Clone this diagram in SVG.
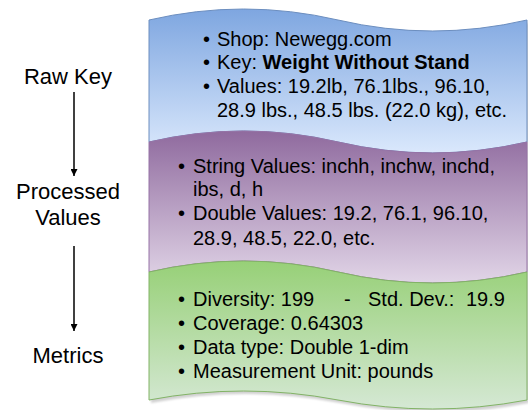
<svg xmlns="http://www.w3.org/2000/svg" width="528" height="410" viewBox="0 0 528 410">
  <style>
    text { font-family: "Liberation Sans", Arial, Helvetica, sans-serif; fill: #000; }
    .body { font-size: 20px; }
    .side { font-size: 22px; text-anchor: middle; }
    .bold { font-weight: bold; }
    .link { stroke: #000; stroke-width: 1.5; fill: none; }
    .shadow { fill: #000; opacity: 0.18; filter: url(#soft); }
  </style>
  <defs>
    <linearGradient id="gBlue" x1="0" y1="0" x2="0" y2="1">
      <stop offset="0" stop-color="#7ea6e0"/>
      <stop offset="1" stop-color="#dae8fc"/>
    </linearGradient>
    <linearGradient id="gPurple" x1="0" y1="0" x2="0" y2="1">
      <stop offset="0" stop-color="#8f6a9e"/>
      <stop offset="1" stop-color="#e1d5e7"/>
    </linearGradient>
    <linearGradient id="gGreen" x1="0" y1="0" x2="0" y2="1">
      <stop offset="0" stop-color="#97d077"/>
      <stop offset="1" stop-color="#d5e8d4"/>
    </linearGradient>
    <filter id="soft" x="-5%" y="-5%" width="110%" height="110%">
      <feGaussianBlur stdDeviation="1.2"/>
    </filter>
    <marker id="arrow" viewBox="0 0 10 10" refX="10" refY="5" markerWidth="7" markerHeight="7" markerUnits="userSpaceOnUse" orient="auto">
      <path d="M0,0 L10,5 L0,10 Z" fill="#000"/>
    </marker>
  </defs>

  <!-- drop shadows of the wavy bands -->
  <g id="shadows">
    <path class="shadow" transform="translate(2,3)" d="M149,20 Q243.5,-2 338,20 Q432.5,42 527,20 L527,400 Q432.5,418 338,400 Q243.5,382 149,400 Z"/>
  </g>

  <!-- blue band: raw key -->
  <g id="raw-key-band">
    <path d="M149,20 Q243.5,-2 338,20 Q432.5,42 527,20 L527,142 Q432.5,164 338,142 Q243.5,120 149,142 Z" fill="url(#gBlue)" stroke="#6c8ebf" stroke-width="1"/>
    <text class="body" x="203" y="46">•</text>
    <text class="body" x="217" y="46">Shop: Newegg.com</text>
    <text class="body" x="203" y="69">•</text>
    <text class="body" x="217" y="69">Key: <tspan class="bold">Weight Without Stand</tspan></text>
    <text class="body" x="203" y="93">•</text>
    <text class="body" x="217" y="93">Values: 19.2lb, 76.1lbs., 96.10,</text>
    <text class="body" x="217" y="117">28.9 lbs., 48.5 lbs. (22.0 kg), etc.</text>
  </g>

  <!-- purple band: processed values -->
  <g id="processed-band">
    <path d="M149,142 Q243.5,120 338,142 Q432.5,164 527,142 L527,272 Q432.5,294 338,272 Q243.5,250 149,272 Z" fill="url(#gPurple)" stroke="#9673a6" stroke-width="1"/>
    <text class="body" x="178" y="173">•</text>
    <text class="body" x="193" y="173">String Values: inchh, inchw, inchd,</text>
    <text class="body" x="193" y="196">ibs, d, h</text>
    <text class="body" x="178" y="220">•</text>
    <text class="body" x="193" y="220">Double Values: 19.2, 76.1, 96.10,</text>
    <text class="body" x="193" y="245">28.9, 48.5, 22.0, etc.</text>
  </g>

  <!-- green band: metrics -->
  <g id="metrics-band">
    <path d="M149,272 Q243.5,250 338,272 Q432.5,294 527,272 L527,400 Q432.5,418 338,400 Q243.5,382 149,400 Z" fill="url(#gGreen)" stroke="#82b366" stroke-width="1"/>
    <text class="body" x="178" y="306">•</text>
    <text class="body" x="193" y="306">Diversity: 199</text>
    <text class="body" x="344" y="306">-</text>
    <text class="body" x="368" y="306">Std. Dev.:</text>
    <text class="body" x="466" y="306">19.9</text>
    <text class="body" x="178" y="330">•</text>
    <text class="body" x="193" y="330">Coverage: 0.64303</text>
    <text class="body" x="178" y="354">•</text>
    <text class="body" x="193" y="354">Data type: Double 1-dim</text>
    <text class="body" x="178" y="378">•</text>
    <text class="body" x="193" y="378">Measurement Unit: pounds</text>
  </g>

  <!-- stage labels -->
  <g id="stage-raw-key">
    <text class="side" x="68" y="84">Raw Key</text>
  </g>
  <g id="stage-processed">
    <text class="side" x="68" y="199">Processed</text>
    <text class="side" x="68" y="225">Values</text>
  </g>
  <g id="stage-metrics">
    <text class="side" x="68" y="363">Metrics</text>
  </g>

  <!-- connectors between stages -->
  <g id="connectors">
    <line class="link" x1="74" y1="92" x2="74" y2="176" marker-end="url(#arrow)"/>
    <line class="link" x1="74" y1="246" x2="74" y2="331" marker-end="url(#arrow)"/>
  </g>
</svg>
